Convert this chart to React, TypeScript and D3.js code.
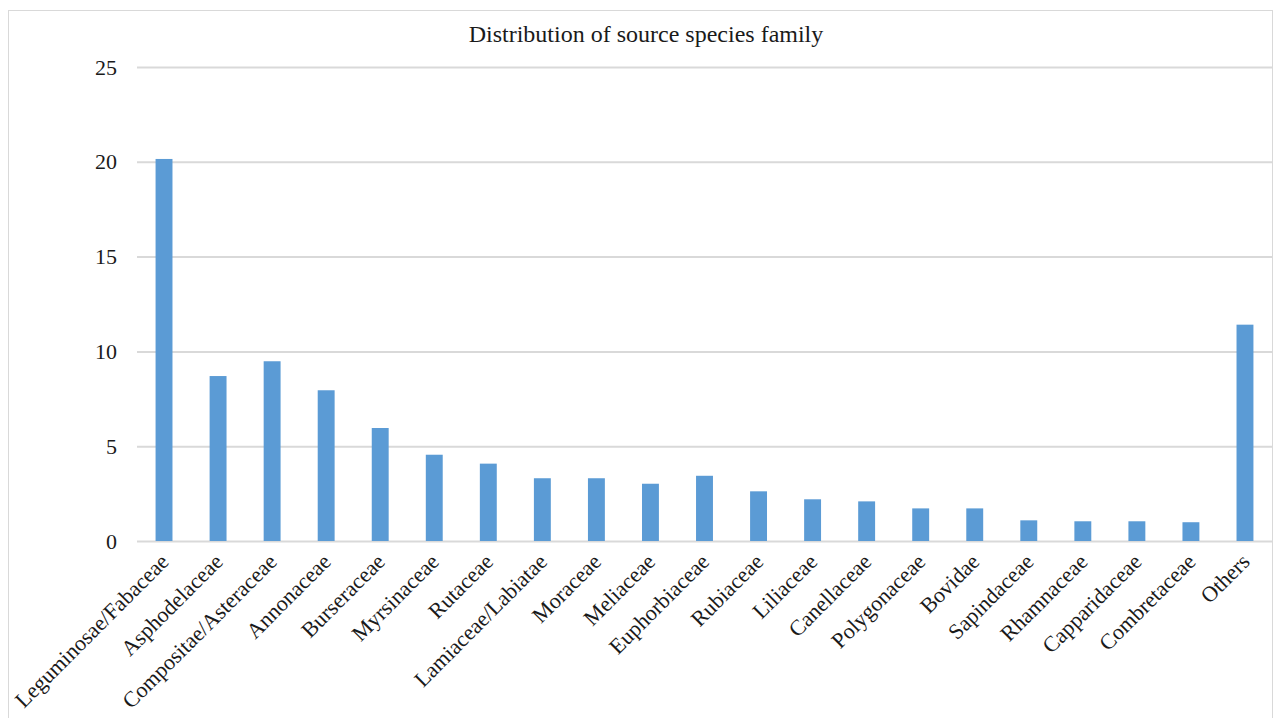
import React, { useEffect, useRef } from "react";
import * as d3 from "d3";

// chart data
const families = [
  "Leguminosae/Fabaceae",
  "Asphodelaceae",
  "Compositae/Asteraceae",
  "Annonaceae",
  "Burseraceae",
  "Myrsinaceae",
  "Rutaceae",
  "Lamiaceae/Labiatae",
  "Moraceae",
  "Meliaceae",
  "Euphorbiaceae",
  "Rubiaceae",
  "Liliaceae",
  "Canellaceae",
  "Polygonaceae",
  "Bovidae",
  "Sapindaceae",
  "Rhamnaceae",
  "Capparidaceae",
  "Combretaceae",
  "Others",
];
const shares = [
  20.15, 8.7, 9.48, 7.95, 5.96, 4.55, 4.08, 3.31, 3.31, 3.02, 3.44, 2.62, 2.2,
  2.09, 1.72, 1.72, 1.09, 1.04, 1.04, 0.99, 11.41,
];
const yTicks = [0, 5, 10, 15, 20, 25];
const chartTitle = "Distribution of source species family";

const width = 1274;
const height = 718;
const margin = { top: 67, right: 2, bottom: 177, left: 137 };
const font = "'Liberation Serif', 'Times New Roman', serif";

export default function App() {
  const ref = useRef<SVGSVGElement>(null);

  useEffect(() => {
    const svg = d3.select(ref.current);
    svg.selectAll("*").remove();

    // outer chart-area frame
    svg
      .append("rect")
      .attr("x", 8.5)
      .attr("y", 10.5)
      .attr("width", 1264)
      .attr("height", 712)
      .attr("fill", "white")
      .attr("stroke", "#d9d9d9")
      .attr("stroke-width", 1);

    const x = d3
      .scaleBand()
      .domain(families)
      .range([margin.left, width - margin.right])
      .paddingInner(0.687)
      .paddingOuter(0.3435);

    const y = d3
      .scaleLinear()
      .domain([0, 25])
      .range([height - margin.bottom, margin.top]);

    // gridlines + y labels
    const yAxis = svg
      .append("g")
      .attr("transform", `translate(${margin.left},0)`)
      .call(
        d3
          .axisLeft(y)
          .tickValues(yTicks)
          .tickSize(-(width - margin.left - margin.right))
          .tickPadding(20)
      );
    yAxis.select(".domain").remove();
    yAxis.selectAll(".tick line").attr("stroke", "#d9d9d9").attr("stroke-width", 2);
    yAxis
      .selectAll(".tick text")
      .attr("font-family", font)
      .attr("font-size", 22)
      .attr("fill", "#1a1a1a");

    // bars
    svg
      .append("g")
      .selectAll("rect")
      .data(families)
      .join("rect")
      .attr("x", (d) => x(d)!)
      .attr("y", (d, i) => y(shares[i]))
      .attr("width", x.bandwidth())
      .attr("height", (d, i) => y(0) - y(shares[i]))
      .attr("fill", "#5b9bd5");

    // rotated category labels
    svg
      .append("g")
      .selectAll("text")
      .data(families)
      .join("text")
      .attr(
        "transform",
        (d) => `translate(${x(d)! + x.bandwidth() / 2 + 6},${y(0) + 22}) rotate(-45)`
      )
      .attr("text-anchor", "end")
      .attr("font-family", font)
      .attr("font-size", 22)
      .attr("fill", "#1a1a1a")
      .text((d) => d);

    svg
      .append("text")
      .attr("x", 646)
      .attr("y", 42)
      .attr("text-anchor", "middle")
      .attr("font-family", font)
      .attr("font-size", 24)
      .attr("fill", "#1a1a1a")
      .text(chartTitle);
  }, []);

  return (
    <svg
      ref={ref}
      width={width}
      height={height}
      style={{ position: "absolute", left: 0, top: 0, background: "white" }}
    />
  );
}
